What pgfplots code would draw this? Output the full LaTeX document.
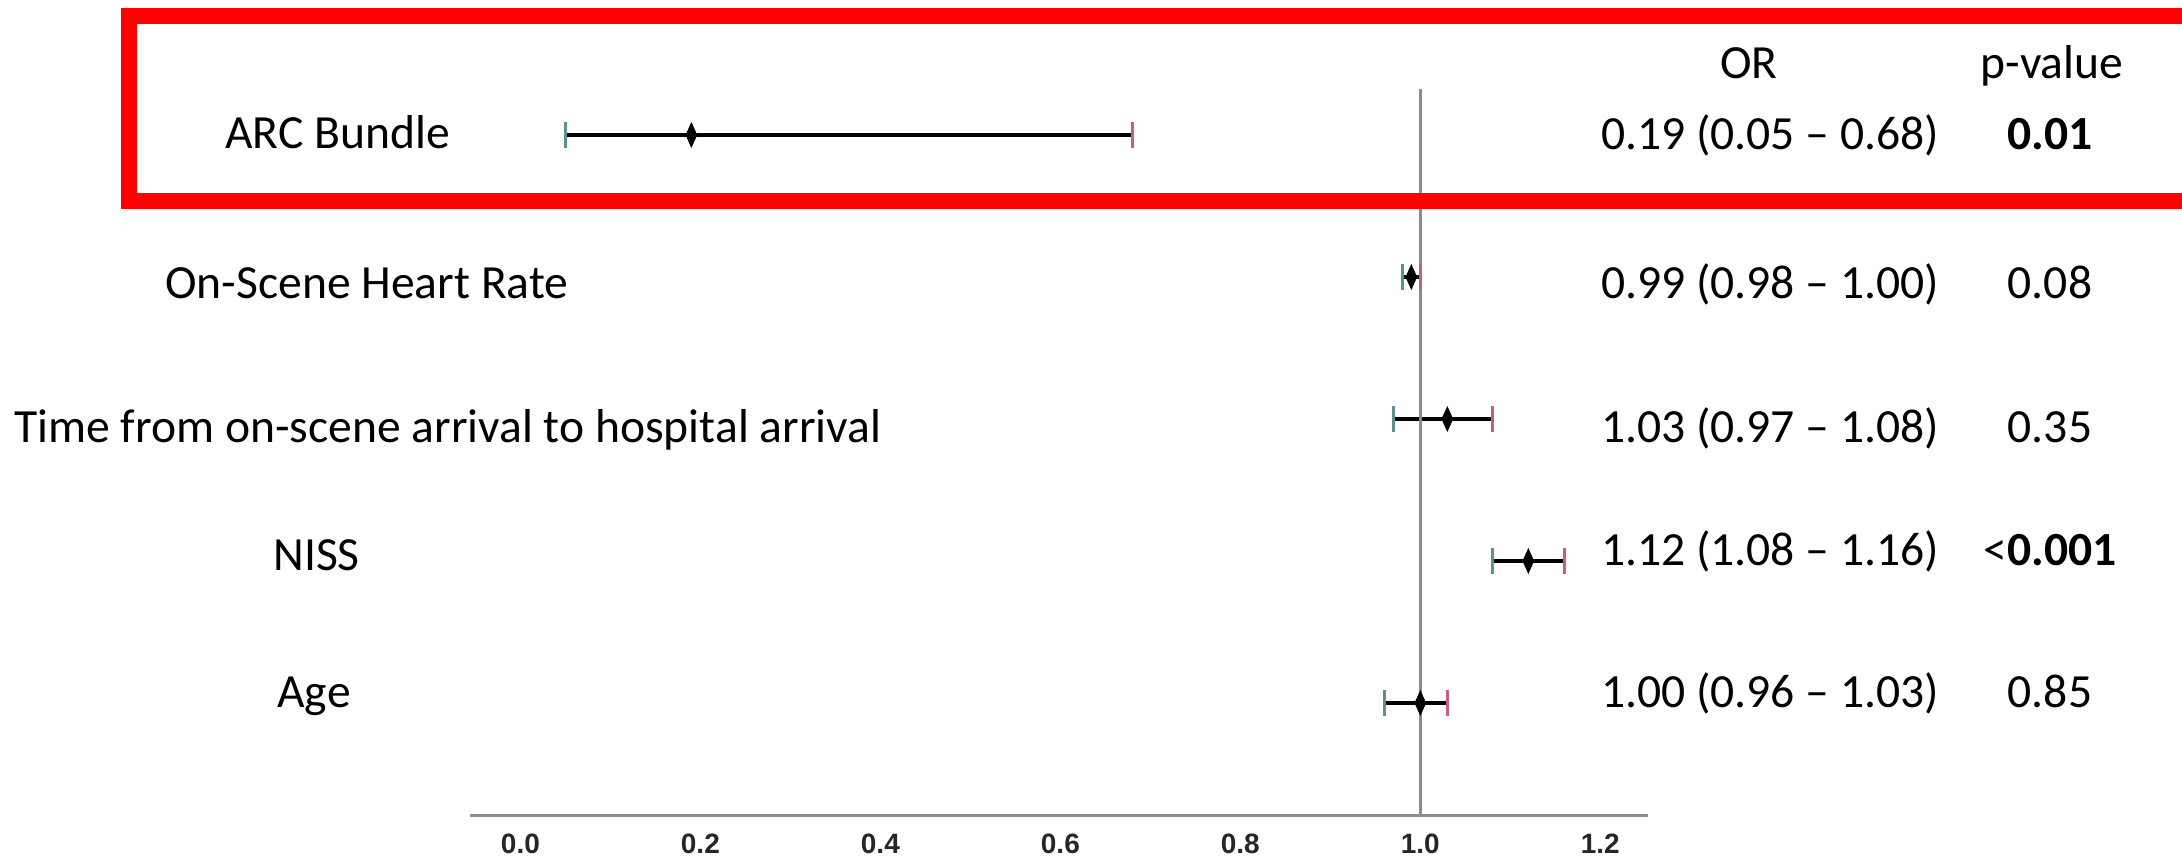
\documentclass[border=0pt]{standalone}
\usepackage{pgfplots}
\usepackage{pgfplotstable}
\pgfplotsset{compat=1.18}
\usepackage{fontspec}
\setmainfont{Carlito}
\newfontfamily\arial{Liberation Sans}

\definecolor{axisgray}{RGB}{140,140,140}
\definecolor{capteal}{RGB}{90,145,145}
\definecolor{cappink}{RGB}{195,95,135}

% odds ratios with 95% CI, y = row (top row = 5)
\pgfplotstableread{
or   lo   hi   y
0.19 0.05 0.68 5
0.99 0.98 1.00 4
1.03 0.97 1.08 3
1.12 1.08 1.16 2
1.00 0.96 1.03 1
}\ortable

\newcommand{\labelsize}{\fontsize{23.8}{28}\selectfont}

\begin{document}
\begin{tikzpicture}
\useasboundingbox (0,0) rectangle (1091pt,429.5pt);

\begin{axis}[
    at={(235pt,22pt)}, anchor=south west,
    scale only axis,
    width=589pt, height=377.5pt,
    xmin=-0.056, xmax=1.253,
    ymin=0.2113, ymax=5.528,
    axis x line*=bottom,
    axis y line=none,
    x axis line style={draw=axisgray, line width=1.5pt},
    xtick={0,0.2,0.4,0.6,0.8,1.0,1.2},
    xticklabels={0.0,0.2,0.4,0.6,0.8,1.0,1.2},
    major tick length=0pt,
    xticklabel style={font=\arial\bfseries\fontsize{14}{16}\selectfont, text=black!85, inner sep=0pt, yshift=-9.5pt},
    clip=false,
]
% CI lines
\addplot[draw=none, mark=none,
    error bars/.cd, x dir=both, x explicit,
    error mark=none,
    error bar style={black, line width=2pt}]
    table[x=or, y=y,
          x error plus expr=\thisrow{hi}-\thisrow{or},
          x error minus expr=\thisrow{or}-\thisrow{lo}] {\ortable};
% reference line at OR = 1
\addplot[axisgray, line width=1.5pt, mark=none] coordinates {(1,0.2113) (1,5.324)};
% caps
\addplot[only marks, mark=|, mark size=6.5pt, mark options={draw=capteal, line width=1.2pt}]
    table[x=lo, y=y] {\ortable};
\addplot[only marks, mark=|, mark size=6.5pt, mark options={draw=cappink, line width=1.2pt}]
    table[x=hi, y=y] {\ortable};
% point estimates
\addplot[only marks, mark=diamond*, mark size=6pt,
    mark options={fill=black, draw=black, line width=0.4pt, xscale=0.6}]
    table[x=or, y=y] {\ortable};
\end{axis}

\begin{scope}
\clip (0,0) rectangle (1091pt,429.5pt);
\draw[red, line width=8pt] (1100pt,421.5pt) -- (64.5pt,421.5pt) -- (64.5pt,329pt) -- (1100pt,329pt);
\end{scope}

\begin{scope}[x=0.5pt, y=-0.5pt, shift={(0,429.5pt)}, every node/.style={inner sep=0pt, font=\labelsize}]
% row labels
\node[anchor=base west] at (225,148) {ARC Bundle};
\node[anchor=base west] at (165,298) {On-Scene Heart Rate};
\node[anchor=base west] at (14,442) {Time from on-scene arrival to hospital arrival};
\node[anchor=base west] at (273,570) {NISS};
\node[anchor=base west] at (277,707) {Age};
% headers
\node[anchor=base] at (1749,79) {OR};
\node[anchor=base] at (2052,79) {p-value};
% OR (95% CI)
\node[anchor=base] at (1770,149) {0.19 (0.05 -- 0.68)};
\node[anchor=base] at (1770,298) {0.99 (0.98 -- 1.00)};
\node[anchor=base] at (1770,442) {1.03 (0.97 -- 1.08)};
\node[anchor=base] at (1770,565) {1.12 (1.08 -- 1.16)};
\node[anchor=base] at (1770,707) {1.00 (0.96 -- 1.03)};
% p-values
\node[anchor=base] at (2050,149) {\textbf{0.01}};
\node[anchor=base] at (2050,298) {0.08};
\node[anchor=base] at (2050,442) {0.35};
\node[anchor=base] at (2050,565) {<\textbf{0.001}};
\node[anchor=base] at (2050,707) {0.85};
\end{scope}
\end{tikzpicture}
\end{document}
